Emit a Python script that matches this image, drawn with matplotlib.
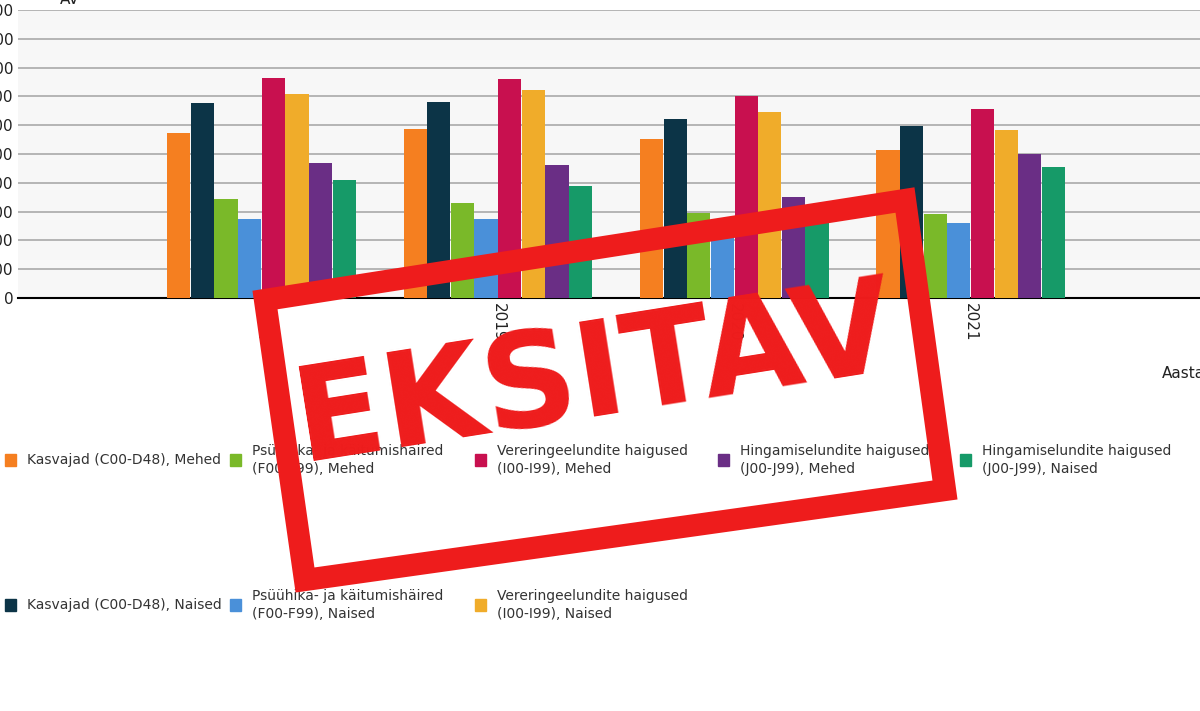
import matplotlib
matplotlib.use("Agg")
import matplotlib.pyplot as plt
from matplotlib.patches import Rectangle, Polygon
import numpy as np

years = ["2018", "2019", "2020", "2021"]
series = ["Kasvajad (C00-D48), Mehed", "Kasvajad (C00-D48), Naised",
          "Psüühika- ja käitumishäired\n(F00-F99), Mehed", "Psüühika- ja käitumishäired\n(F00-F99), Naised",
          "Vereringeelundite haigused\n(I00-I99), Mehed", "Vereringeelundite haigused\n(I00-I99), Naised",
          "Hingamiselundite haigused\n(J00-J99), Mehed", "Hingamiselundite haigused\n(J00-J99), Naised"]
values = [
    [5730, 5870, 5520, 5140],
    [6770, 6800, 6220, 5970],
    [3440, 3300, 2950, 2920],
    [2740, 2740, 2500, 2600],
    [7640, 7600, 7010, 6560],
    [7080, 7220, 6460, 5830],
    [4690, 4620, 3500, 5000],
    [4100, 3890, 3200, 4550],
]
colors = ["#f57f20", "#0c3447", "#7ab929", "#4a90d9", "#c8104f", "#f0ac2a", "#6a2e85", "#169a68"]
yticks = list(range(0, 10001, 1000))

fig = plt.figure(figsize=(12, 7.11), dpi=100)
ax = fig.add_axes([18/1200, 413/711, 1182/1200, 288/711])
ax.set_facecolor("#f7f7f7")
x = np.arange(len(years))
w = 0.1
for i, (vals, c) in enumerate(zip(values, colors)):
    ax.bar(x + (i - 3.5) * w, vals, width=w * 0.98, color=c, zorder=3)
ax.set_xlim(-1.03, 3.97)
ax.set_ylim(0, 10000)
ax.set_yticks(yticks)
ax.set_yticklabels([str(t) for t in yticks], fontsize=11, color="#222")
ax.yaxis.grid(True, color="#aaaaaa", linewidth=1.2, zorder=0)
ax.set_xticks(x)
ax.set_xticklabels(years, rotation=270, fontsize=11, color="#222")
for s in ["top", "right", "left"]:
    ax.spines[s].set_visible(False)
ax.spines["bottom"].set_color("black")
ax.spines["bottom"].set_linewidth(1.5)
ax.tick_params(length=0)
fig.text(1162/1200, 1 - 373/711, "Aasta", fontsize=11, color="#222", va="center")
fig.text(60/1200, 1 - 0/711, "AV", fontsize=11, color="#222", va="center")

colx = [5, 230, 475, 718, 960]
rowy = [460, 605]
for i, (lab, c) in enumerate(zip(series, colors)):
    col, row = i // 2, i % 2
    if col > 2:
        col, row = 3 + (i - 6), 0
    px, py = colx[col], rowy[row]
    fig.add_artist(Rectangle((px/1200, 1 - (py + 6)/711), 11/1200, 12/711,
                             transform=fig.transFigure, color=c))
    fig.text((px + 22)/1200, 1 - py/711, lab, fontsize=10, color="#333",
             va="center", linespacing=1.3)

# "EKSITAV" stamp
corners = [(265, 300), (905, 200), (945, 490), (305, 580)]
poly = Polygon([(cx/1200, 1 - cy/711) for cx, cy in corners], closed=True,
               fill=False, edgecolor="#ee1c1c", linewidth=16,
               transform=fig.transFigure, zorder=10)
fig.add_artist(poly)
fig.text(595/1200, 1 - 378/711, "EKSITAV", fontsize=94, fontweight="bold",
         color="#ee1c1c", ha="center", va="center", rotation=9, zorder=11)
fig.savefig("out.png", dpi=100)
